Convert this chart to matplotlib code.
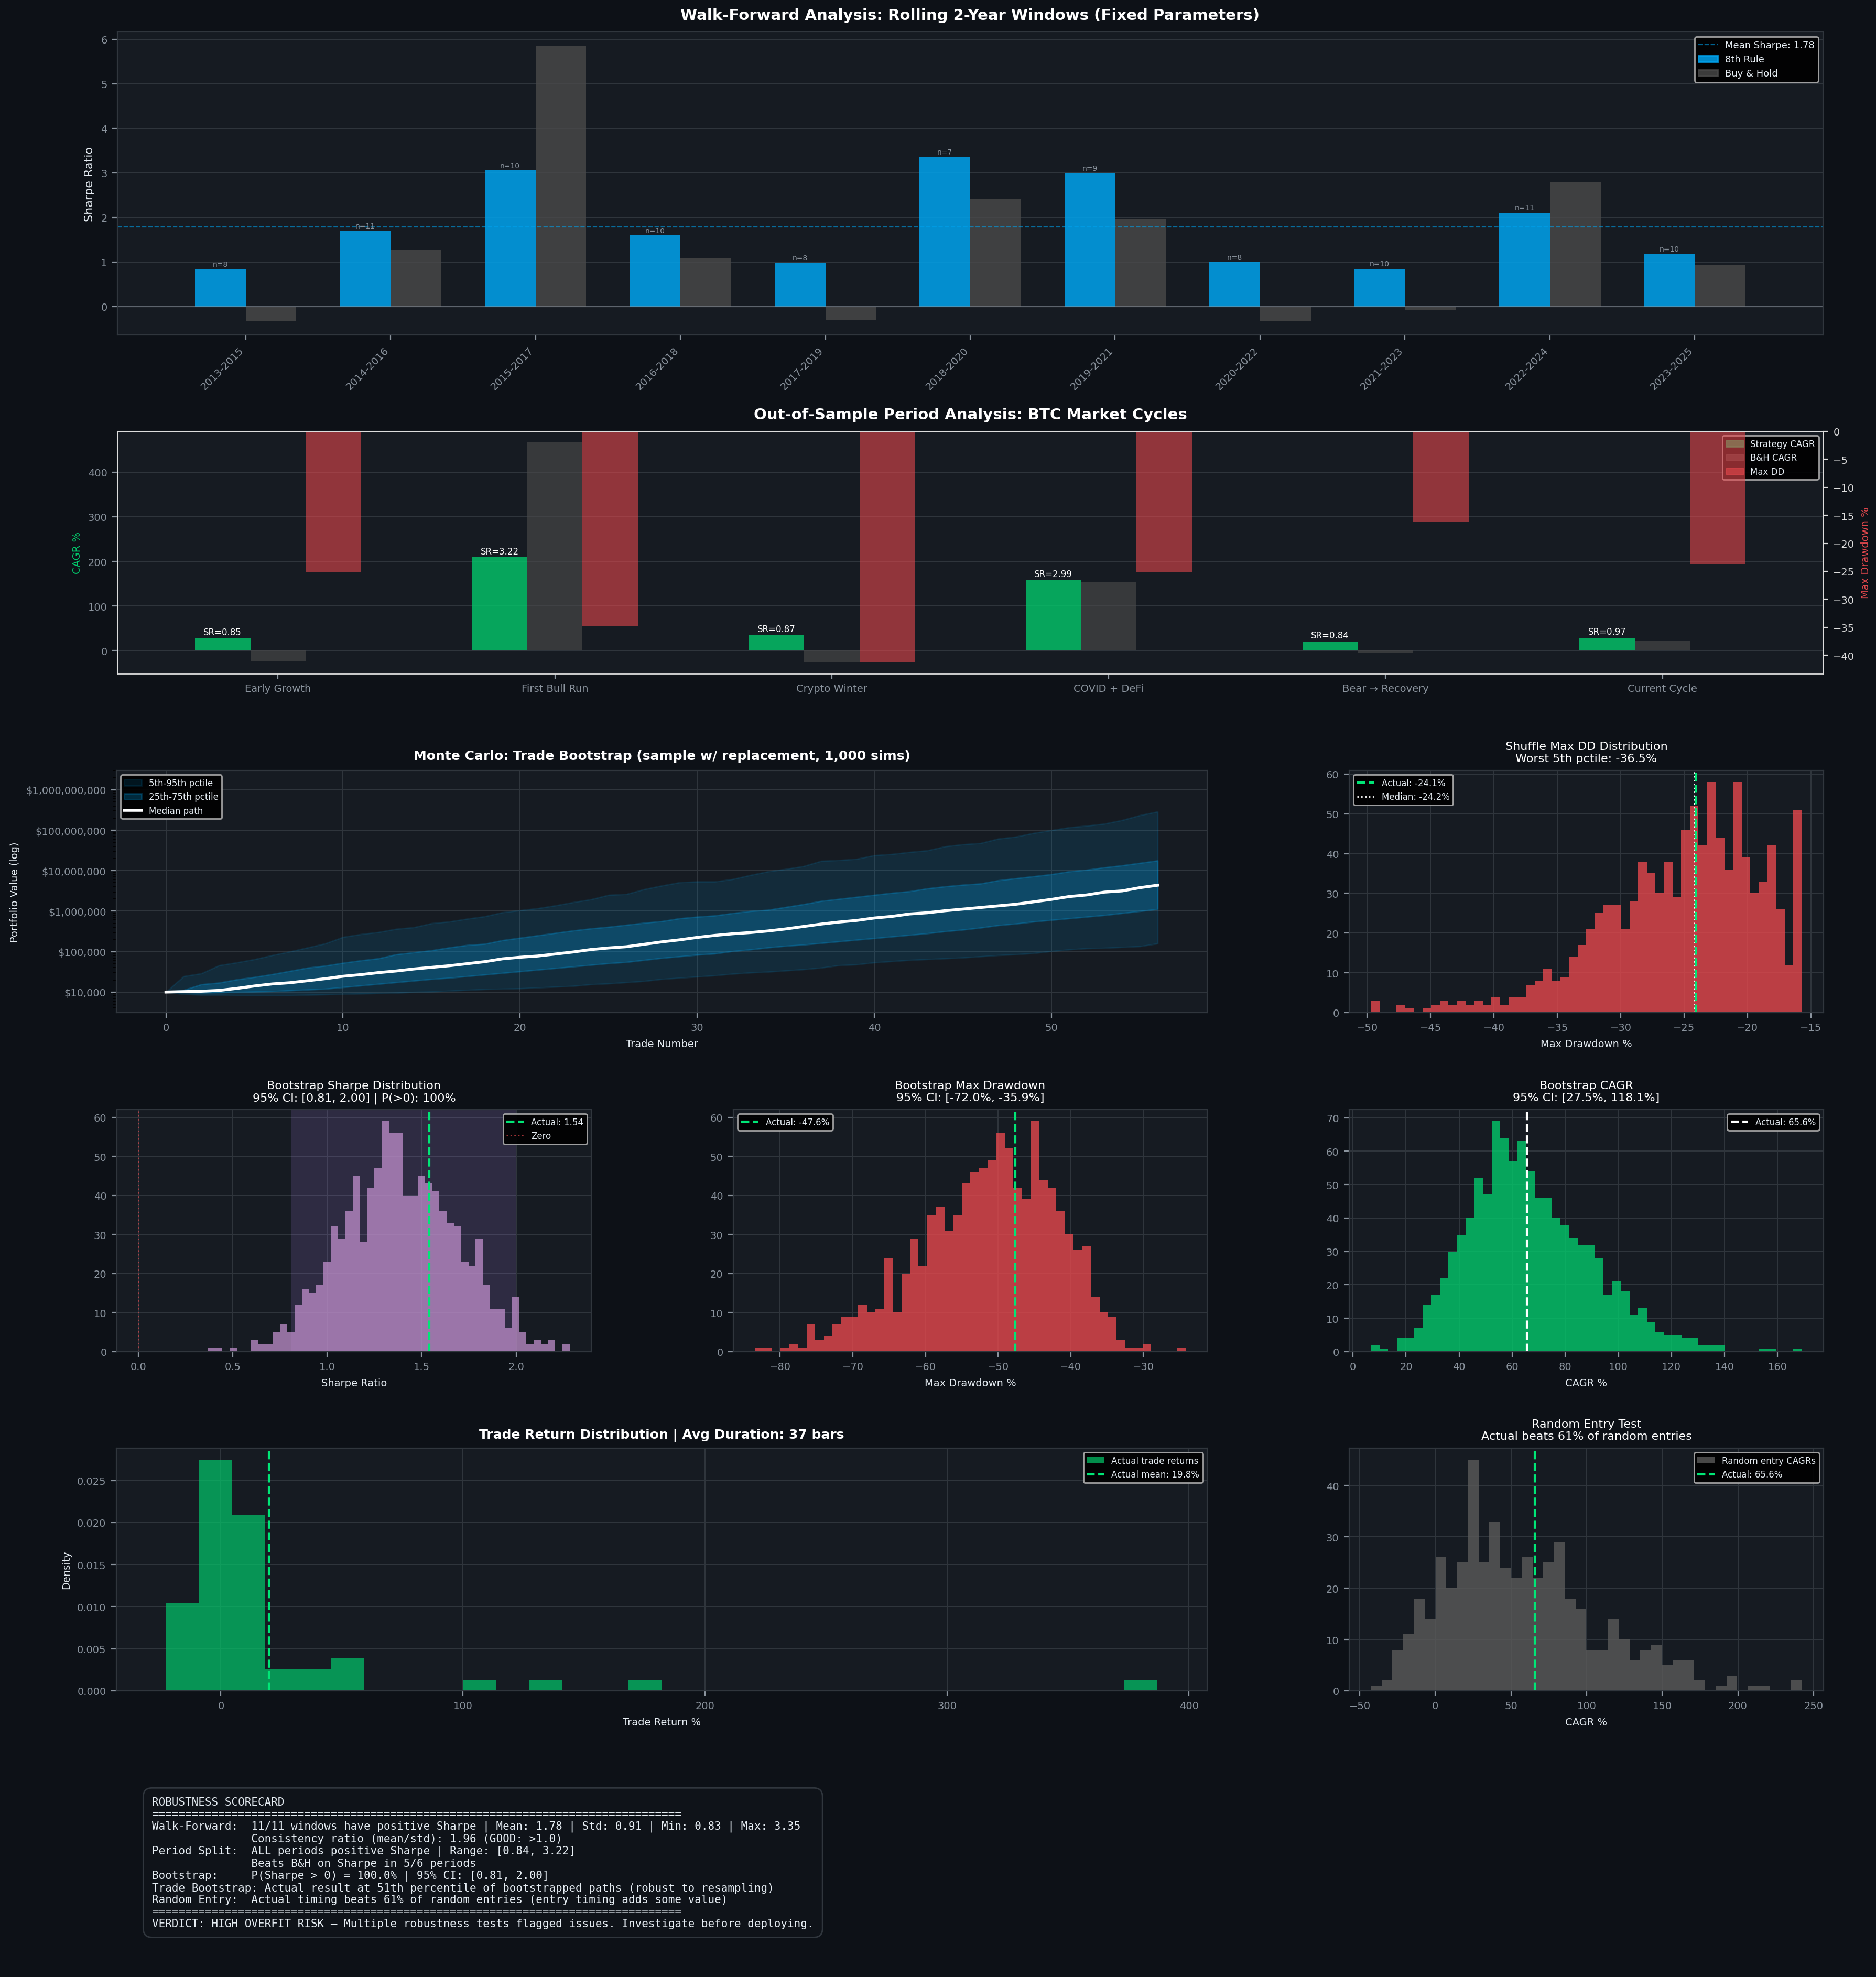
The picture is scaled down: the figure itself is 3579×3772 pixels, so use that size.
import numpy as np
import matplotlib
matplotlib.use('Agg')
import matplotlib.pyplot as plt
from matplotlib.patches import Patch
from matplotlib.lines import Line2D
from matplotlib.ticker import FuncFormatter

# ---------------- colours ----------------
FIG_BG = '#0d1117'
AX_BG = '#161b22'
GRID = '#30363d'
TXT = '#e6edf3'
MUTED = '#8b949e'
BLUE = '#00A3EE'
GREEN = '#02C96B'
LINE_GREEN = '#00E676'
RED = '#E5484D'
GRAY = '#4a4a4a'
PURPLE = '#C08FCC'
CI_PURPLE = '#bc8cff'
RAND_GRAY = '#5a5a5a'

plt.rcParams['font.family'] = ['DejaVu Sans']

# ---------------- data: walk-forward ----------------
windows = ['2013-2015', '2014-2016', '2015-2017', '2016-2018', '2017-2019', '2018-2020',
           '2019-2021', '2020-2022', '2021-2023', '2022-2024', '2023-2025']
wf_strategy = [0.83, 1.69, 3.05, 1.59, 0.97, 3.35, 2.99, 0.99, 0.84, 2.10, 1.18]
wf_bh = [-0.33, 1.27, 5.85, 1.09, -0.31, 2.41, 1.96, -0.33, -0.09, 2.78, 0.94]
wf_trades = [8, 11, 10, 10, 8, 7, 9, 8, 10, 11, 10]

# ---------------- data: out-of-sample periods ----------------
periods = ['Early Growth', 'First Bull Run', 'Crypto Winter', 'COVID + DeFi',
           'Bear → Recovery', 'Current Cycle']
period_strat_cagr = [27, 209, 34, 158, 20, 28]
period_bh_cagr = [-24, 467, -27, 154, -6, 21]
period_max_dd = [-25.1, -34.7, -41.2, -25.1, -16.1, -23.7]
period_sharpe = [0.85, 3.22, 0.87, 2.99, 0.84, 0.97]

# ---------------- data: Monte Carlo trade bootstrap (log10 of $ value) ----------------
mc_trades = list(range(57))
mc_p5_log = [4.00, 3.95, 3.93, 3.93, 3.92, 3.92, 3.92, 3.92, 3.93, 3.94,
             3.95, 3.96, 3.97, 3.98, 4.00, 4.01, 4.03, 4.05, 4.07, 4.08,
             4.09, 4.11, 4.13, 4.15, 4.19, 4.21, 4.24, 4.27, 4.32, 4.35,
             4.38, 4.41, 4.45, 4.48, 4.50, 4.53, 4.56, 4.60, 4.66, 4.68,
             4.73, 4.76, 4.79, 4.81, 4.83, 4.85, 4.88, 4.91, 4.93, 4.96,
             5.01, 5.05, 5.08, 5.09, 5.11, 5.13, 5.20]
mc_p25_log = [4.00, 3.99, 3.98, 3.99, 4.00, 4.01, 4.02, 4.04, 4.06, 4.08,
              4.12, 4.16, 4.20, 4.24, 4.28, 4.32, 4.35, 4.39, 4.43, 4.47,
              4.51, 4.55, 4.59, 4.63, 4.67, 4.71, 4.74, 4.79, 4.84, 4.88,
              4.92, 4.95, 5.01, 5.05, 5.10, 5.14, 5.17, 5.21, 5.25, 5.29,
              5.33, 5.37, 5.41, 5.45, 5.50, 5.54, 5.59, 5.65, 5.69, 5.74,
              5.78, 5.82, 5.86, 5.90, 5.95, 6.00, 6.05]
mc_median_log = [4.00, 4.01, 4.02, 4.04, 4.09, 4.15, 4.20, 4.23, 4.28, 4.33,
                 4.39, 4.43, 4.48, 4.52, 4.57, 4.61, 4.65, 4.70, 4.75, 4.82,
                 4.86, 4.89, 4.94, 4.99, 5.05, 5.09, 5.12, 5.18, 5.24, 5.29,
                 5.35, 5.40, 5.44, 5.47, 5.51, 5.56, 5.62, 5.68, 5.73, 5.77,
                 5.83, 5.87, 5.93, 5.96, 6.01, 6.05, 6.09, 6.13, 6.17, 6.23,
                 6.29, 6.36, 6.40, 6.47, 6.50, 6.58, 6.64]
mc_p75_log = [4.00, 4.05, 4.19, 4.23, 4.31, 4.37, 4.44, 4.52, 4.60, 4.65,
              4.72, 4.78, 4.83, 4.93, 4.98, 5.03, 5.10, 5.16, 5.19, 5.28,
              5.34, 5.40, 5.46, 5.52, 5.57, 5.61, 5.66, 5.71, 5.75, 5.82,
              5.86, 5.89, 5.95, 6.00, 6.03, 6.10, 6.17, 6.25, 6.30, 6.35,
              6.40, 6.45, 6.49, 6.56, 6.61, 6.65, 6.68, 6.76, 6.81, 6.86,
              6.91, 6.98, 7.02, 7.08, 7.13, 7.19, 7.25]
mc_p95_log = [4.00, 4.39, 4.46, 4.66, 4.73, 4.81, 4.91, 5.00, 5.10, 5.20,
              5.36, 5.43, 5.48, 5.56, 5.60, 5.70, 5.74, 5.81, 5.87, 5.97,
              6.02, 6.07, 6.14, 6.22, 6.29, 6.40, 6.42, 6.54, 6.63, 6.71,
              6.73, 6.73, 6.79, 6.89, 6.98, 7.04, 7.11, 7.24, 7.26, 7.29,
              7.38, 7.41, 7.46, 7.50, 7.60, 7.65, 7.68, 7.79, 7.84, 7.93,
              8.00, 8.07, 8.11, 8.16, 8.25, 8.37, 8.46]

# ---------------- data: histograms (counts per bin, bin range) ----------------
shuffle_dd_counts = [3, 0, 0, 2, 1, 0, 1, 2, 3, 2, 3, 2, 3, 2, 4, 2, 4, 4, 7, 8,
                     11, 8, 9, 14, 17, 21, 25, 27, 27, 21, 28, 38, 35, 30, 38, 29, 46, 52, 42, 58,
                     44, 36, 58, 39, 30, 33, 42, 26, 12, 51]
shuffle_dd_range = (-49.72, -15.70)
shuffle_actual = -24.1
shuffle_median = -24.2

boot_sharpe_counts = [1, 1, 0, 1, 0, 0, 3, 2, 2, 5, 7, 5, 12, 16, 15, 17, 23, 32, 29, 36,
                      45, 28, 42, 47, 59, 56, 56, 40, 40, 45, 43, 41, 36, 33, 32, 23, 22, 29, 17, 11,
                      11, 6, 14, 5, 2, 3, 2, 3, 0, 2]
boot_sharpe_range = (0.367, 2.284)
sharpe_ci = (0.81, 2.00)
sharpe_actual = 1.54

boot_dd_counts = [1, 1, 0, 1, 2, 1, 7, 3, 4, 7, 9, 9, 12, 10, 11, 24, 10, 20, 29, 22,
                  35, 37, 31, 35, 43, 46, 47, 49, 56, 52, 42, 39, 59, 44, 42, 36, 30, 26, 27, 14,
                  10, 9, 3, 1, 1, 2, 0, 0, 0, 1]
boot_dd_range = (-83.49, -24.18)
boot_dd_actual = -47.6

boot_cagr_counts = [2, 1, 0, 4, 4, 7, 14, 17, 22, 30, 35, 40, 52, 47, 69, 64, 57, 63, 54, 46,
                    46, 40, 38, 34, 32, 32, 28, 17, 21, 18, 11, 13, 9, 6, 5, 5, 4, 4, 2, 2,
                    2, 0, 0, 0, 0, 1, 1, 0, 0, 1]
boot_cagr_range = (6.7, 169.2)
cagr_actual = 65.6

trade_ret_counts = [8, 21, 16, 2, 2, 3, 0, 0, 0, 1, 0, 1, 0, 0, 1,
                    0, 0, 0, 0, 0, 0, 0, 0, 0, 0, 0, 0, 0, 0, 1]
trade_ret_range = (-22.7, 387.0)
trade_ret_mean = 19.8

random_entry_counts = [1, 2, 8, 11, 18, 14, 26, 20, 25, 45, 25, 33, 24, 22, 26, 22, 25, 29, 18, 16,
                       8, 8, 14, 10, 6, 8, 9, 5, 6, 6, 2, 0, 1, 3, 0, 1, 1, 0, 0, 2]
random_entry_range = (-42.7, 242.4)

scorecard = (
    "ROBUSTNESS SCORECARD\n"
    + "=" * 80 + "\n"
    "Walk-Forward:  11/11 windows have positive Sharpe | Mean: 1.78 | Std: 0.91 | Min: 0.83 | Max: 3.35\n"
    "               Consistency ratio (mean/std): 1.96 (GOOD: >1.0)\n"
    "Period Split:  ALL periods positive Sharpe | Range: [0.84, 3.22]\n"
    "               Beats B&H on Sharpe in 5/6 periods\n"
    "Bootstrap:     P(Sharpe > 0) = 100.0% | 95% CI: [0.81, 2.00]\n"
    "Trade Bootstrap: Actual result at 51th percentile of bootstrapped paths (robust to resampling)\n"
    "Random Entry:  Actual timing beats 61% of random entries (entry timing adds some value)\n"
    + "=" * 80 + "\n"
    "VERDICT: HIGH OVERFIT RISK \u2014 Multiple robustness tests flagged issues. Investigate before deploying."
)

# ---------------- helpers ----------------
W, H = 3580, 3773


def rect(l, t, r, b):
    return [l / W, 1 - b / H, (r - l) / W, (b - t) / H]


def style(ax, grid_axis='both'):
    ax.set_facecolor(AX_BG)
    for s in ax.spines.values():
        s.set_color(GRID)
    ax.tick_params(colors=MUTED, labelsize=7)
    ax.grid(True, axis=grid_axis, color=GRID, lw=0.7)
    ax.set_axisbelow(True)


def leg(ax, handles=None, labels=None, fs=6, **kw):
    args = [] if handles is None else [handles, labels]
    L = ax.legend(*args, fontsize=fs, facecolor='black', edgecolor='#b0b0b0',
                  labelcolor=TXT, framealpha=0.9, **kw)
    return L


def draw_hist(ax, counts, rng, color, alpha, label=None, density=False):
    edges = np.linspace(rng[0], rng[1], len(counts) + 1)
    centers = (edges[:-1] + edges[1:]) / 2
    return ax.hist(centers, bins=edges, weights=counts, color=color, alpha=alpha,
                   label=label, density=density)


fig = plt.figure(figsize=(W / 200, H / 200), dpi=200, facecolor=FIG_BG)

# ================= 1. Walk-forward =================
ax1 = fig.add_axes(rect(224, 62, 3478, 640))
style(ax1, 'y')
x = np.arange(len(windows))
w = 0.35
ax1.bar(x - w / 2, wf_strategy, w, color=BLUE, alpha=0.85, label='8th Rule')
ax1.bar(x + w / 2, wf_bh, w, color=GRAY, alpha=0.8, label='Buy & Hold')
mean_sh = np.mean(wf_strategy)
ax1.axhline(mean_sh, color=BLUE, ls='--', lw=0.8, alpha=0.6)
ax1.axhline(0, color=MUTED, lw=0.8, alpha=0.5)
for xi, v, n in zip(x, wf_strategy, wf_trades):
    ax1.annotate(f'n={n}', (xi - w / 2, v), xytext=(0, 1), textcoords='offset points',
                 ha='center', va='bottom', fontsize=5, color=MUTED)
ax1.set_xticks(x, windows, rotation=45, ha='right')
ax1.set_ylabel('Sharpe Ratio', color=TXT, fontsize=8)
ax1.set_title('Walk-Forward Analysis: Rolling 2-Year Windows (Fixed Parameters)',
              color='white', fontsize=10.5, fontweight='bold', pad=8.5)
h1 = [Line2D([], [], color=BLUE, ls='--', lw=0.8, alpha=0.6),
      Patch(color=BLUE, alpha=0.85), Patch(color=GRAY, alpha=0.8)]
leg(ax1, h1, [f'Mean Sharpe: {mean_sh:.2f}', '8th Rule', 'Buy & Hold'], fs=6.5,
    loc='upper right')

# ================= 2. Out-of-sample periods =================
ax2 = fig.add_axes(rect(224, 824, 3478, 1286))
style(ax2, 'y')
x2 = np.arange(len(periods))
w2 = 0.2
ax2.bar(x2 - w2, period_strat_cagr, w2, color=GREEN, alpha=0.8)
ax2.bar(x2, period_bh_cagr, w2, color=GRAY, alpha=0.65)
for xi, v, sr in zip(x2, period_strat_cagr, period_sharpe):
    ax2.annotate(f'SR={sr:.2f}', (xi - w2, v), xytext=(0, 1), textcoords='offset points',
                 ha='center', va='bottom', fontsize=6, color='white')
ax2.set_xticks(x2, periods)
ax2.set_ylabel('CAGR %', color=GREEN, fontsize=7)
ax2.set_title('Out-of-Sample Period Analysis: BTC Market Cycles',
              color='white', fontsize=10.5, fontweight='bold', pad=8.5)
h2 = [Patch(color=GREEN, alpha=0.8), Patch(color=GRAY, alpha=0.65), Patch(color=RED, alpha=0.6)]
leg(ax2, h2, ['Strategy CAGR', 'B&H CAGR', 'Max DD'], loc='upper right')
ax2b = ax2.twinx()
ax2b.bar(x2 + w2, period_max_dd, w2, color=RED, alpha=0.6)
ax2b.set_ylim(min(period_max_dd) * 1.05, 0)
ax2b.set_ylabel('Max Drawdown %', color=RED, fontsize=7)
ax2b.tick_params(colors='#dddddd', labelsize=7)
for s in ax2b.spines.values():
    s.set_color('#dddddd')
    s.set_linewidth(1.0)

# ================= 3. Monte Carlo =================
ax3 = fig.add_axes(rect(222, 1471, 2303, 1933))
style(ax3)
p5 = 10 ** np.array(mc_p5_log)
p25 = 10 ** np.array(mc_p25_log)
med = 10 ** np.array(mc_median_log)
p75 = 10 ** np.array(mc_p75_log)
p95 = 10 ** np.array(mc_p95_log)
ax3.fill_between(mc_trades, p5, p95, color=BLUE, alpha=0.12, label='5th-95th pctile')
ax3.fill_between(mc_trades, p25, p75, color=BLUE, alpha=0.25, label='25th-75th pctile')
ax3.plot(mc_trades, med, color='white', lw=2, label='Median path')
ax3.set_yscale('log')
ax3.set_ylim(3.1e3, 3.0e9)
ax3.yaxis.set_major_formatter(FuncFormatter(lambda v, p: f'${v:,.0f}'))
ax3.set_xlabel('Trade Number', color=TXT, fontsize=7)
ax3.set_ylabel('Portfolio Value (log)', color=TXT, fontsize=7)
ax3.set_title('Monte Carlo: Trade Bootstrap (sample w/ replacement, 1,000 sims)',
              color='white', fontsize=9, fontweight='bold', pad=7.5)
leg(ax3, loc='upper left')

# ================= 4. Shuffle Max DD =================
ax4 = fig.add_axes(rect(2574, 1471, 3479, 1933))
style(ax4)
draw_hist(ax4, shuffle_dd_counts, shuffle_dd_range, RED, 0.8)
ax4.axvline(shuffle_actual, color=LINE_GREEN, ls='--', lw=1.5, label=f'Actual: {shuffle_actual:.1f}%')
ax4.axvline(shuffle_median, color='white', ls=':', lw=1, label=f'Median: {shuffle_median:.1f}%')
ax4.set_xlabel('Max Drawdown %', color=TXT, fontsize=7)
ax4.set_title('Shuffle Max DD Distribution\nWorst 5th pctile: -36.5%', color='white', fontsize=8)
leg(ax4, loc='upper left')

# ================= 5. Bootstrap Sharpe =================
ax5 = fig.add_axes(rect(223, 2118, 1128, 2580))
style(ax5)
ax5.axvspan(sharpe_ci[0], sharpe_ci[1], color=CI_PURPLE, alpha=0.15, lw=0)
draw_hist(ax5, boot_sharpe_counts, boot_sharpe_range, PURPLE, 0.75)
ax5.axvline(sharpe_actual, color=LINE_GREEN, ls='--', lw=1.5, label=f'Actual: {sharpe_actual:.2f}')
ax5.axvline(0, color=RED, ls=':', lw=1, alpha=0.7, label='Zero')
ax5.set_xlabel('Sharpe Ratio', color=TXT, fontsize=7)
ax5.set_title(f'Bootstrap Sharpe Distribution\n95% CI: [{sharpe_ci[0]:.2f}, {sharpe_ci[1]:.2f}] | P(>0): 100%',
              color='white', fontsize=8)
leg(ax5, loc='upper right')

# ================= 6. Bootstrap Max DD =================
ax6 = fig.add_axes(rect(1399, 2118, 2303, 2580))
style(ax6)
draw_hist(ax6, boot_dd_counts, boot_dd_range, RED, 0.8)
ax6.axvline(boot_dd_actual, color=LINE_GREEN, ls='--', lw=1.5, label=f'Actual: {boot_dd_actual:.1f}%')
ax6.set_xlabel('Max Drawdown %', color=TXT, fontsize=7)
ax6.set_title('Bootstrap Max Drawdown\n95% CI: [-72.0%, -35.9%]', color='white', fontsize=8)
leg(ax6, loc='upper left')

# ================= 7. Bootstrap CAGR =================
ax7 = fig.add_axes(rect(2574, 2118, 3479, 2580))
style(ax7)
draw_hist(ax7, boot_cagr_counts, boot_cagr_range, GREEN, 0.8)
ax7.axvline(cagr_actual, color='white', ls='--', lw=1.5, label=f'Actual: {cagr_actual:.1f}%')
ax7.set_xlabel('CAGR %', color=TXT, fontsize=7)
ax7.set_title('Bootstrap CAGR\n95% CI: [27.5%, 118.1%]', color='white', fontsize=8)
leg(ax7, loc='upper right')

# ================= 8. Trade return distribution =================
ax8 = fig.add_axes(rect(222, 2764, 2303, 3227))
style(ax8)
draw_hist(ax8, trade_ret_counts, trade_ret_range, GREEN, 0.7, label='Actual trade returns', density=True)
ax8.axvline(trade_ret_mean, color=LINE_GREEN, ls='--', lw=1.5, label=f'Actual mean: {trade_ret_mean:.1f}%')
ax8.set_xlabel('Trade Return %', color=TXT, fontsize=7)
ax8.set_ylabel('Density', color=TXT, fontsize=7)
ax8.set_title('Trade Return Distribution | Avg Duration: 37 bars', color='white',
              fontsize=9, fontweight='bold', pad=7)
leg(ax8, loc='upper right')

# ================= 9. Random entry =================
ax9 = fig.add_axes(rect(2574, 2764, 3479, 3227))
style(ax9)
draw_hist(ax9, random_entry_counts, random_entry_range, RAND_GRAY, 0.8, label='Random entry CAGRs')
ax9.axvline(cagr_actual, color=LINE_GREEN, ls='--', lw=1.5, label=f'Actual: {cagr_actual:.1f}%')
ax9.set_xlabel('CAGR %', color=TXT, fontsize=7)
ax9.set_title('Random Entry Test\nActual beats 61% of random entries', color='white', fontsize=8)
leg(ax9, loc='upper right')

# ================= Scorecard =================
fig.text(290 / W, 1 - 3429 / H, scorecard, ha='left', va='top', fontsize=7.5,
         family='DejaVu Sans Mono', color=TXT, linespacing=1.17,
         bbox=dict(boxstyle='round,pad=0.8', facecolor='#0f1319', edgecolor=GRID, lw=1))

fig.savefig('out.png', dpi=200, facecolor=FIG_BG)
